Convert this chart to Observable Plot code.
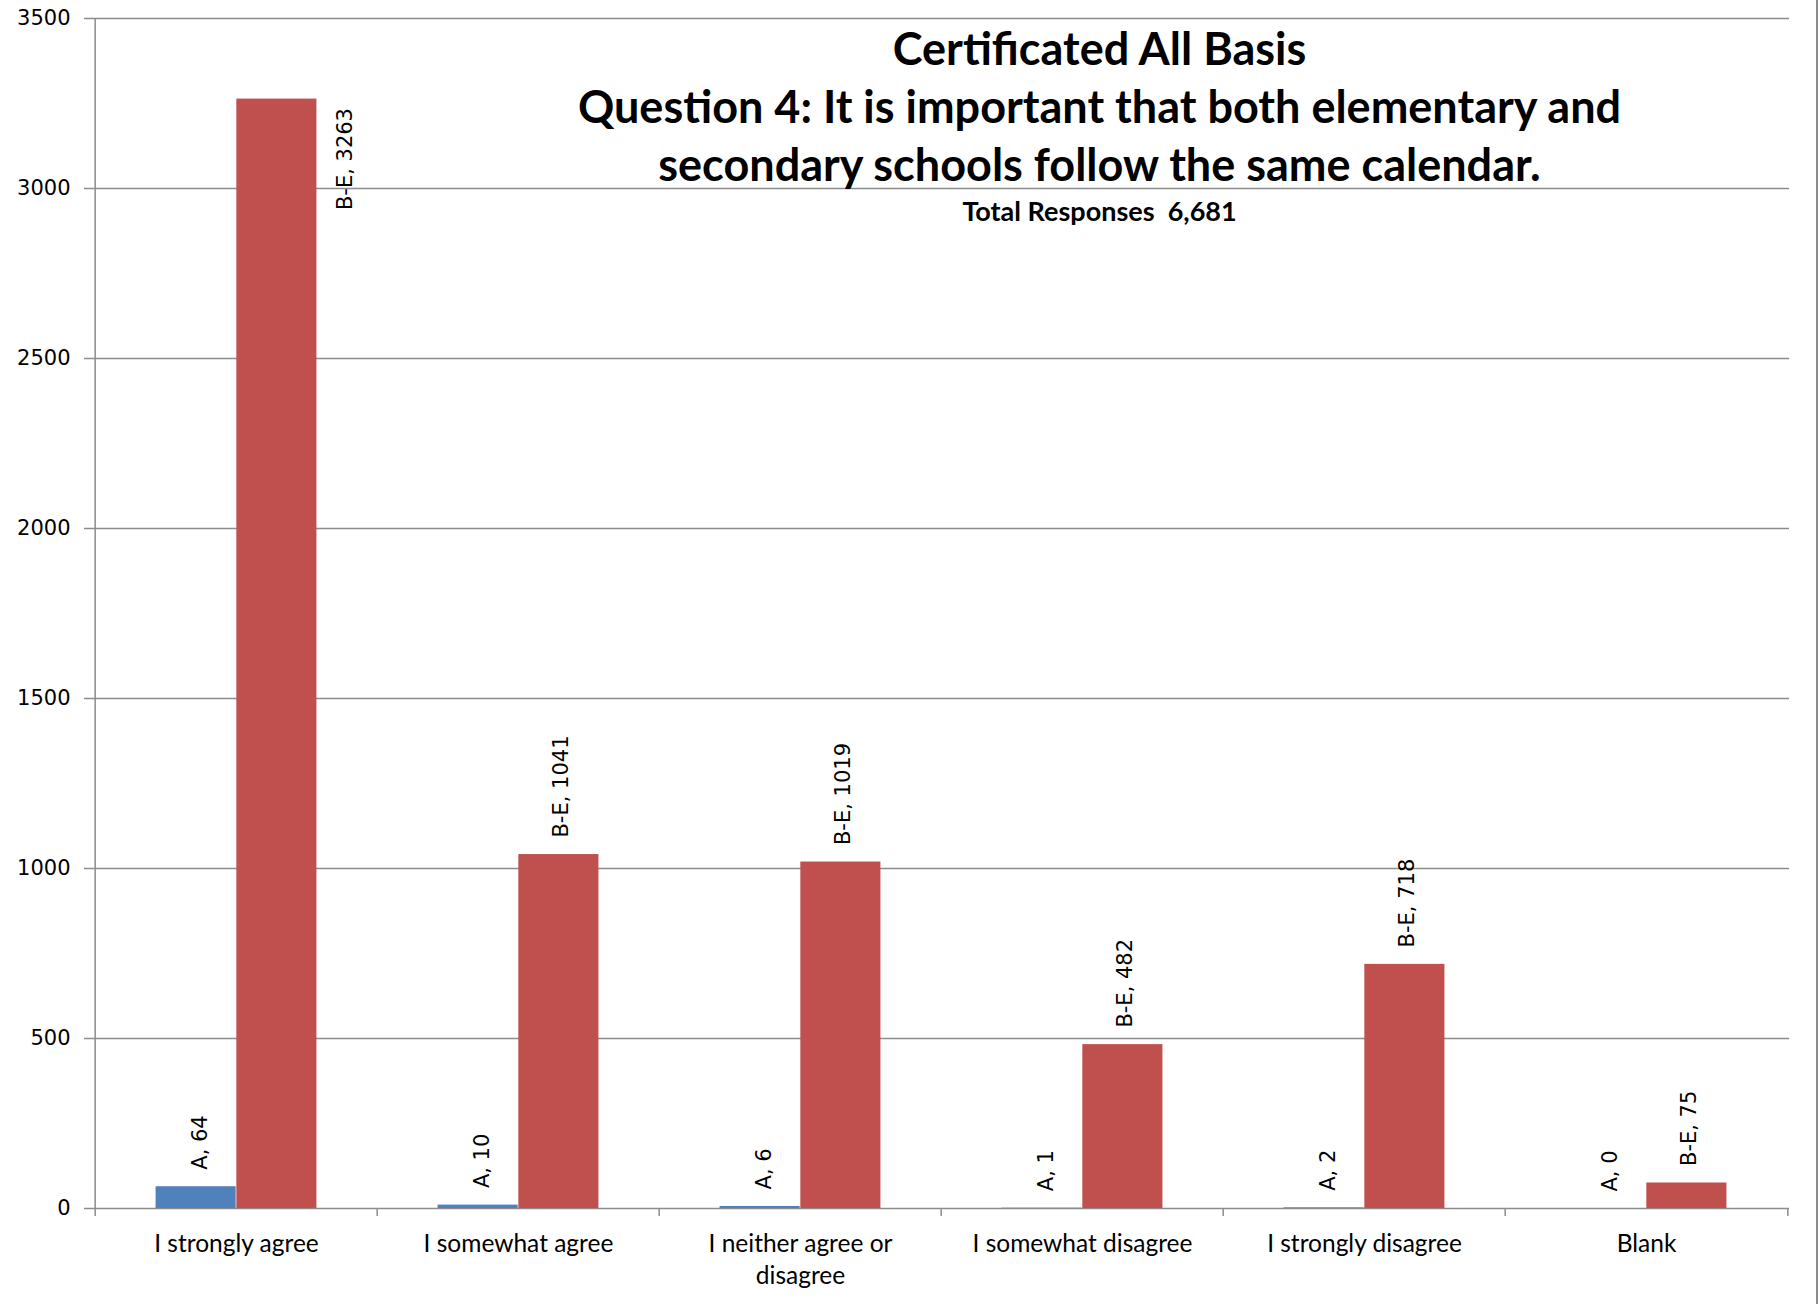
<!DOCTYPE html>
<html>
<head>
<meta charset="utf-8">
<script src="https://cdn.jsdelivr.net/npm/d3@7"></script>
<script src="https://cdn.jsdelivr.net/npm/@observablehq/plot@0.6"></script>
<style>
  html, body { margin: 0; padding: 0; background: #fff; }
  #wrap { position: relative; width: 1818px; height: 1304px; overflow: hidden; }
  #border { position: absolute; left: 1816px; top: 0; width: 2px; height: 1304px; background: #8c8c8c; }
  svg text { white-space: pre; }
</style>
</head>
<body>
<div id="wrap"><div id="chart"></div><div id="border"></div></div>
<script>
const categories = ["I strongly agree", "I somewhat agree", "I neither agree or disagree", "I somewhat disagree", "I strongly disagree", "Blank"];
const categoryLabels = ["I strongly agree", "I somewhat agree", "I neither agree or\ndisagree", "I somewhat disagree", "I strongly disagree", "Blank"];
const seriesNames = ["A", "B-E"];
const seriesA = [64, 10, 6, 1, 2, 0];
const seriesBE = [3263, 1041, 1019, 482, 718, 75];
const yTicks = [0, 500, 1000, 1500, 2000, 2500, 3000, 3500];
const titleLines = ["Certificated All Basis", "Question 4: It is important that both elementary and", "secondary schools follow the same calendar."];
const subtitle = "Total Responses  6,681";

const W = 1818, H = 1304;
const mL = 93, mR = 29, mT = 18, mB = 96;
const bw = (W - mL - mR) / categories.length;   // band width
const barW = bw / 3.5;                            // Excel gap width 150%
const side = barW * 0.75;

const rowsA = categories.map((c, i) => ({cat: c, series: seriesNames[0], value: seriesA[i]}));
const rowsBE = categories.map((c, i) => ({cat: c, series: seriesNames[1], value: seriesBE[i]}));
const maxBE = d3.max(seriesBE);

const blue = "#4F81BD", red = "#C0504D", gray = "#8c8c8c";
const numFont = "DejaVu Sans";
const txtFont = "Lato";

const chart = Plot.plot({
  width: W, height: H,
  marginLeft: mL, marginRight: mR, marginTop: mT, marginBottom: mB,
  style: {background: "white", color: "black"},
  x: {domain: categories, padding: 0, axis: null},
  y: {domain: [0, 3500], axis: null},
  marks: [
    Plot.gridY(yTicks, {stroke: gray, strokeOpacity: 1, strokeWidth: 1.5}),
    Plot.axisY(yTicks, {tickSize: 9, tickPadding: 14, stroke: gray, strokeWidth: 1.5, fill: "black",
      fontSize: 21, fontFamily: numFont, label: null, tickFormat: d => String(d)}),
    // left vertical axis line
    Plot.ruleX(categories.slice(0, 1), {x: d => d, dx: -bw / 2, insetBottom: -8, stroke: gray, strokeWidth: 1.5}),
    // category boundary ticks
    Plot.ruleX(categories.slice(1), {x: d => d, dx: -bw / 2, insetTop: H - mT - mB, insetBottom: -8, stroke: gray, strokeWidth: 1.5}),
    Plot.ruleX(categories.slice(-1), {x: d => d, dx: bw / 2, insetTop: H - mT - mB, insetBottom: -8, stroke: gray, strokeWidth: 1.5}),
    // bars
    Plot.barY(rowsA, {x: "cat", y: "value", fill: blue, insetLeft: side, insetRight: bw - side - barW}),
    Plot.barY(rowsBE, {x: "cat", y: "value", fill: red, insetLeft: side + barW, insetRight: side}),
    // data labels
    Plot.text(rowsA, {x: "cat", y: "value", text: d => `${d.series}, ${d.value}`, rotate: -90,
      textAnchor: "start", lineAnchor: "middle", dx: -barW / 2 + 4, dy: -17,
      fontSize: 21, fontFamily: numFont, fill: "black"}),
    Plot.text(rowsBE.filter(d => d.value !== maxBE), {x: "cat", y: "value", text: d => `${d.series}, ${d.value}`, rotate: -90,
      textAnchor: "start", lineAnchor: "middle", dx: barW / 2 + 2, dy: -17,
      fontSize: 21, fontFamily: numFont, fill: "black"}),
    Plot.text(rowsBE.filter(d => d.value === maxBE), {x: "cat", y: "value", text: d => `${d.series}, ${d.value}`, rotate: -90,
      textAnchor: "start", lineAnchor: "middle", dx: barW / 2 + 68, dy: 111,
      fontSize: 21, fontFamily: numFont, fill: "black"}),
    // category labels
    Plot.text(categories, {x: d => d, text: (d, i) => categoryLabels[i], frameAnchor: "bottom",
      lineAnchor: "top", dy: 20, lineHeight: 1.33, fontSize: 24.5, fontFamily: txtFont, fill: "black"}),
    // title
    Plot.text([titleLines.join("\n")], {text: d => d, frameAnchor: "top", lineAnchor: "top",
      dx: 158, dy: 5, fontSize: 45, fontWeight: "bold", fontFamily: txtFont, lineHeight: 1.289, fill: "black"}),
    Plot.text([subtitle], {text: d => d, frameAnchor: "top", lineAnchor: "middle",
      dx: 158, dy: 194, fontSize: 27, fontWeight: "bold", fontFamily: txtFont, fill: "black"})
  ]
});
document.getElementById("chart").appendChild(chart);
</script>
</body>
</html>
